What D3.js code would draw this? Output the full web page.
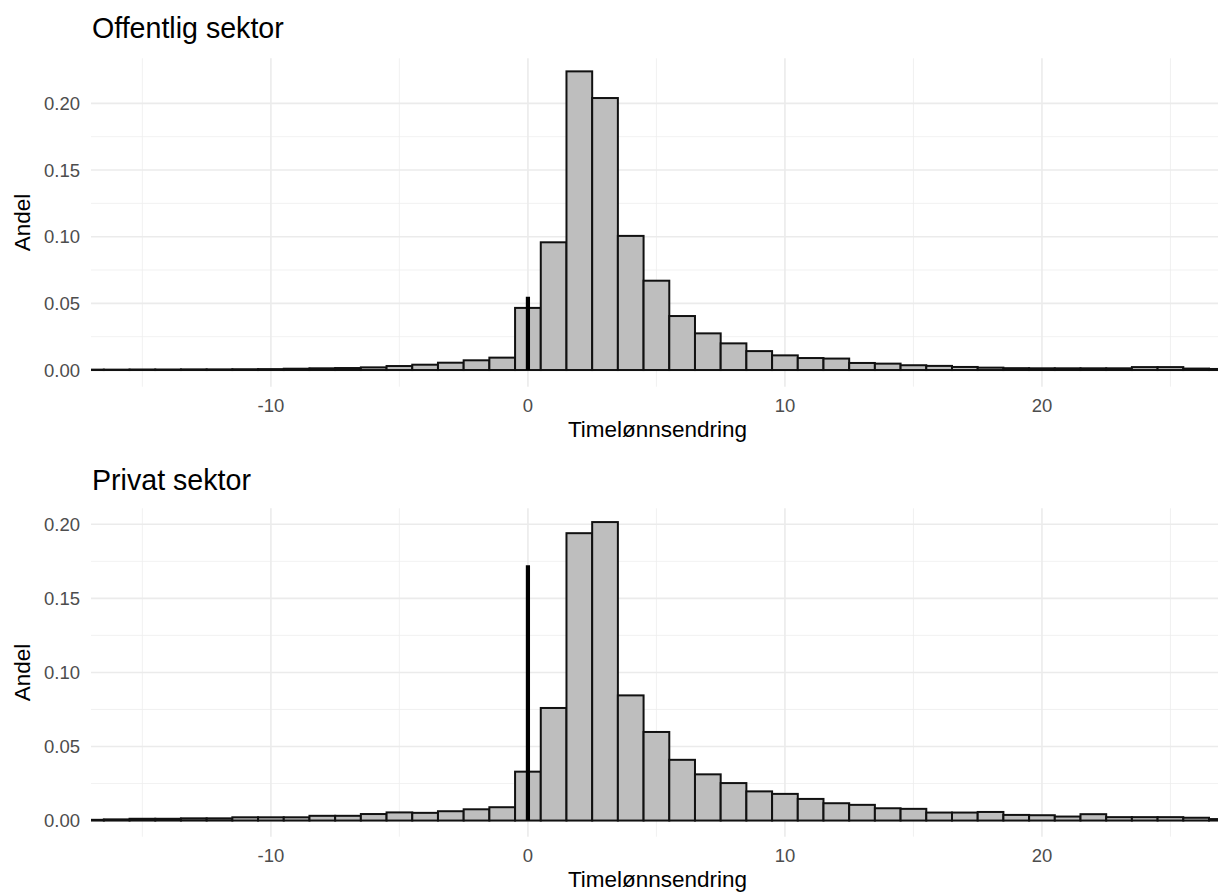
<!DOCTYPE html>
<html>
<head>
<meta charset="utf-8">
<script src="https://cdn.jsdelivr.net/npm/d3@7"></script>
<style>
  body { margin: 0; background: #fff; }
  svg { display: block; font-family: "Liberation Sans", Arial, sans-serif; }
</style>
</head>
<body>
<svg id="main" width="1218" height="893"></svg>
<script>
const width = 1218;
const height = 893;

// bin centres (bins are 1 wide)
const binCenters = [-17, -16, -15, -14, -13, -12, -11, -10, -9, -8, -7, -6, -5, -4, -3, -2, -1,
    0, 1, 2, 3, 4, 5, 6, 7, 8, 9, 10, 11, 12, 13, 14, 15, 16, 17, 18, 19, 20, 21, 22, 23, 24, 25, 26, 27];

const offentligAndel = [0.0003, 0.0003, 0.0004, 0.0004, 0.0005, 0.0005, 0.0006, 0.0007, 0.0010, 0.0013, 0.0015, 0.0020, 0.0030, 0.0040, 0.0055, 0.0073, 0.0093,
    0.0466, 0.0958, 0.2240, 0.2040, 0.1006, 0.0670, 0.0405, 0.0275, 0.0200, 0.0142, 0.0110, 0.0090, 0.0086, 0.0053, 0.0048, 0.0036, 0.0031, 0.0023, 0.0018, 0.0014, 0.0013, 0.0013, 0.0013, 0.0013, 0.0022, 0.0022, 0.0011, 0.0008];

const privatAndel = [0.0005, 0.0008, 0.0012, 0.0012, 0.0015, 0.0015, 0.0022, 0.0022, 0.0022, 0.0032, 0.0032, 0.0044, 0.0055, 0.0052, 0.0063, 0.0076, 0.0090,
    0.0330, 0.0760, 0.1940, 0.2015, 0.0845, 0.0598, 0.0410, 0.0312, 0.0253, 0.0197, 0.0180, 0.0146, 0.0117, 0.0106, 0.0083, 0.0079, 0.0054, 0.0054, 0.0058, 0.0038, 0.0036, 0.0027, 0.0043, 0.0023, 0.0023, 0.0023, 0.0019, 0.0010];

// share with exactly zero change (drawn as a spike at x = 0)
const offentligNull = 0.055;
const privatNull = 0.1723;

const xTicks = [-10, 0, 10, 20];
const xMinor = [-15, -5, 5, 15, 25];
const yTicks = [0, 0.05, 0.10, 0.15, 0.20];
const yMinor = [0.025, 0.075, 0.125, 0.175];

const titles = ["Offentlig sektor", "Privat sektor"];

const svg = d3.select('#main');

const panels = [
    { title: titles[0], values: offentligAndel, spike: offentligNull, top: 58.3, bottom: 386.7, yDomain: [-0.0125, 0.2338], titleY: 38.3 },
    { title: titles[1], values: privatAndel, spike: privatNull, top: 508.3, bottom: 836.7, yDomain: [-0.0109, 0.2108], titleY: 490 }
];

const plotLeft = 91;
const plotRight = 1218;

const x = d3.scaleLinear()
    .domain([-17, 26.85])
    .range([plotLeft, plotRight]);

panels.forEach((p, i) => drawPanel(p, i));

function drawPanel(p, i) {
    const y = d3.scaleLinear()
        .domain(p.yDomain)
        .range([p.bottom, p.top]);

    const g = svg.append('g');

    // grid
    g.append('g').selectAll('line.ym')
        .data(yMinor).enter().append('line')
        .attr('x1', plotLeft).attr('x2', plotRight)
        .attr('y1', d => y(d)).attr('y2', d => y(d))
        .attr('stroke', '#ededed').attr('stroke-width', 0.8);
    g.append('g').selectAll('line.xm')
        .data(xMinor).enter().append('line')
        .attr('x1', d => x(d)).attr('x2', d => x(d))
        .attr('y1', p.top).attr('y2', p.bottom)
        .attr('stroke', '#ededed').attr('stroke-width', 0.8);
    g.append('g').selectAll('line.y')
        .data(yTicks).enter().append('line')
        .attr('x1', plotLeft).attr('x2', plotRight)
        .attr('y1', d => y(d)).attr('y2', d => y(d))
        .attr('stroke', '#ebebeb').attr('stroke-width', 1.6);
    g.append('g').selectAll('line.x')
        .data(xTicks).enter().append('line')
        .attr('x1', d => x(d)).attr('x2', d => x(d))
        .attr('y1', p.top).attr('y2', p.bottom)
        .attr('stroke', '#ebebeb').attr('stroke-width', 1.6);

    // clip to the panel
    svg.append('clipPath').attr('id', 'clip' + i)
        .append('rect')
        .attr('x', plotLeft).attr('y', p.top)
        .attr('width', plotRight - plotLeft).attr('height', p.bottom - p.top);

    const bars = g.append('g').attr('clip-path', 'url(#clip' + i + ')');
    bars.selectAll('rect')
        .data(binCenters.map((c, k) => ({ c: c, v: p.values[k] })))
        .enter().append('rect')
        .attr('x', d => x(d.c - 0.5))
        .attr('width', d => x(d.c + 0.5) - x(d.c - 0.5))
        .attr('y', d => y(d.v))
        .attr('height', d => y(0) - y(d.v))
        .attr('fill', '#bebebe')
        .attr('stroke', '#111')
        .attr('stroke-width', 2);

    bars.append('line')
        .attr('x1', x(0)).attr('x2', x(0))
        .attr('y1', y(0)).attr('y2', y(p.spike))
        .attr('stroke', '#000')
        .attr('stroke-width', 4.2);

    // tick labels
    g.append('g').selectAll('text')
        .data(yTicks).enter().append('text')
        .attr('x', 80)
        .attr('y', d => y(d))
        .attr('dy', '0.36em')
        .attr('text-anchor', 'end')
        .attr('fill', '#4d4d4d')
        .style('font-size', '18.5px')
        .text(d => d3.format('.2f')(d));

    g.append('g').selectAll('text')
        .data(xTicks).enter().append('text')
        .attr('x', d => x(d))
        .attr('y', p.bottom + 18.3)
        .attr('dy', '0.36em')
        .attr('text-anchor', 'middle')
        .attr('fill', '#4d4d4d')
        .style('font-size', '18.5px')
        .text(d => d);

    // titles
    g.append('text')
        .attr('x', 92)
        .attr('y', p.titleY)
        .style('font-size', '28.6px')
        .attr('fill', '#000')
        .text(p.title);

    g.append('text')
        .attr('x', (plotLeft + plotRight) / 2 + 3)
        .attr('y', p.bottom + 50)
        .attr('text-anchor', 'middle')
        .style('font-size', '22.5px')
        .attr('fill', '#000')
        .text('Timelønnsendring');

    g.append('text')
        .attr('transform', `translate(30, ${(p.top + p.bottom) / 2}) rotate(-90)`)
        .attr('text-anchor', 'middle')
        .style('font-size', '22.5px')
        .attr('fill', '#000')
        .text('Andel');
}
</script>
</body>
</html>
